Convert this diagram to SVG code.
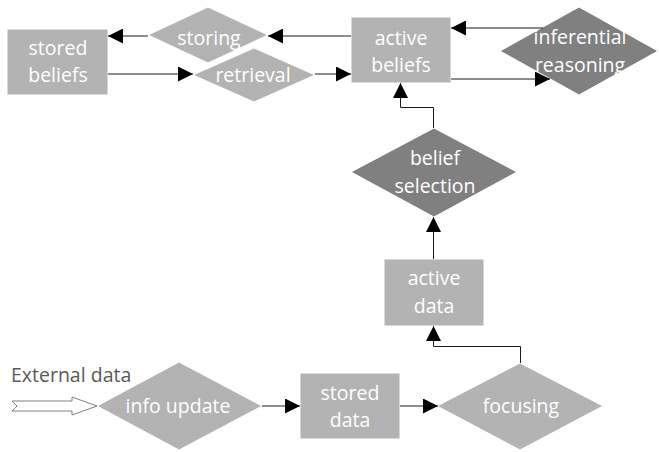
<svg xmlns="http://www.w3.org/2000/svg" width="659" height="452" viewBox="0 0 659 452">
  <style>
    .light { fill: #b3b3b3; stroke: #ffffff; stroke-width: 1; }
    .dark { fill: #808080; stroke: #ffffff; stroke-width: 1; }
    .lbl { font-family: "Open Sans", "Noto Sans", sans-serif; font-size: 19.5px; fill: #ffffff; text-anchor: middle; }
    .ext { font-family: "Open Sans", "Noto Sans", sans-serif; font-size: 19.5px; fill: #595959; }
    .conn { fill: none; stroke: #1a1a1a; stroke-width: 1; }
  </style>
  <defs>
    <marker id="arrow" markerUnits="userSpaceOnUse" markerWidth="15" markerHeight="15" refX="15" refY="7.5" orient="auto">
      <path d="M0,0 L15,7.5 L0,15 Z" fill="#000000"/>
    </marker>
  </defs>

  <!-- nodes -->
  <g id="stored-beliefs">
    <rect class="light" x="7" y="29" width="101" height="66"/>
    <text class="lbl" x="58" y="55">stored</text>
    <text class="lbl" x="58" y="82">beliefs</text>
  </g>
  <g id="retrieval">
    <polygon class="light" points="254,48 315,75 254,102 193,75"/>
    <text class="lbl" x="253" y="82">retrieval</text>
  </g>
  <g id="storing">
    <polygon class="light" points="208,7 268,35 208,63 148,35"/>
    <text class="lbl" x="209" y="45">storing</text>
  </g>
  <g id="active-beliefs">
    <rect class="light" x="351" y="17" width="100" height="66"/>
    <text class="lbl" x="401" y="45">active</text>
    <text class="lbl" x="401" y="72">beliefs</text>
  </g>
  <g id="inferential-reasoning">
    <polygon class="dark" points="579,7 658,51 579,95 500,51"/>
    <text class="lbl" x="580" y="44">inferential</text>
    <text class="lbl" x="580" y="72">reasoning</text>
  </g>
  <g id="belief-selection">
    <polygon class="dark" points="434,128 517,172 434,217 351,172"/>
    <text class="lbl" x="435" y="165">belief</text>
    <text class="lbl" x="435" y="193">selection</text>
  </g>
  <g id="active-data">
    <rect class="light" x="384" y="259" width="100" height="67"/>
    <text class="lbl" x="434" y="285">active</text>
    <text class="lbl" x="434" y="313">data</text>
  </g>
  <g id="info-update">
    <polygon class="light" points="179,362 262,406 179,450 97,406"/>
    <text class="lbl" x="178" y="413">info update</text>
  </g>
  <g id="stored-data">
    <rect class="light" x="300" y="373" width="100" height="66"/>
    <text class="lbl" x="350" y="400">stored</text>
    <text class="lbl" x="350" y="427">data</text>
  </g>
  <g id="focusing">
    <polygon class="light" points="520,363 603,406 520,450 437,406"/>
    <text class="lbl" x="521" y="413">focusing</text>
  </g>
  <g id="external-data">
    <text class="ext" x="11" y="382">External data</text>
    <polygon points="12,401 72,401 72,397 97,406 72,415 72,411 12,411 17,406" fill="#ffffff" stroke="#808080" stroke-width="1"/>
  </g>

  <!-- connectors -->
  <g id="connectors">
    <line class="conn" x1="351" y1="36" x2="268" y2="36" marker-end="url(#arrow)"/>
    <line class="conn" x1="148" y1="36" x2="108" y2="36" marker-end="url(#arrow)"/>
    <line class="conn" x1="108" y1="74" x2="193" y2="74" marker-end="url(#arrow)"/>
    <line class="conn" x1="315" y1="74" x2="351" y2="74" marker-end="url(#arrow)"/>
    <line class="conn" x1="543" y1="28" x2="451" y2="28" marker-end="url(#arrow)"/>
    <line class="conn" x1="451" y1="79" x2="550" y2="79" marker-end="url(#arrow)"/>
    <polyline class="conn" points="433.5,128 433.5,107.5 400.5,107.5 400.5,83" marker-end="url(#arrow)"/>
    <line class="conn" x1="433.5" y1="259" x2="433.5" y2="217" marker-end="url(#arrow)"/>
    <polyline class="conn" points="520.5,363 520.5,346.5 433.5,346.5 433.5,326" marker-end="url(#arrow)"/>
    <line class="conn" x1="262" y1="406" x2="300" y2="406" marker-end="url(#arrow)"/>
    <line class="conn" x1="400" y1="406" x2="438" y2="406" marker-end="url(#arrow)"/>
  </g>
</svg>
